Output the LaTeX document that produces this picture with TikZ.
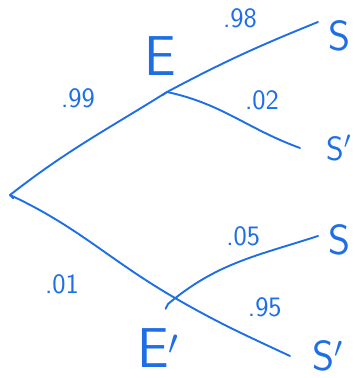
\documentclass[tikz,border=0pt]{standalone}
\usepackage{tikz}
\usetikzlibrary{arrows.meta}
\usepackage{xcolor}
\definecolor{pen}{RGB}{30,110,230}

\begin{document}
\begin{tikzpicture}[
    x=1cm,
    y=1cm,
    line cap=round,
    line join=round,
    font=\sffamily,
    stroke/.style={draw=pen, line width=1.35pt},
    prob/.style={text=pen, font=\sffamily\fontsize{20}{22}\selectfont, inner sep=0pt},
    event/.style={text=pen, font=\sffamily\fontsize{40}{44}\selectfont, inner sep=0pt},
    leaf/.style={text=pen, font=\sffamily\fontsize{30}{34}\selectfont, inner sep=0pt, anchor=west},
  ]

  \useasboundingbox (0,0) rectangle (8.85,9.45);

  % Branch points
  \coordinate (root) at (0.25,4.575);
  \coordinate (upJ) at (4.175,7.15);
  \coordinate (loJ) at (4.375,2.0);
  \coordinate (loJs) at (4.2,1.85);

  % Free ends of the four outcomes
  \coordinate (end1) at (7.95,8.9);
  \coordinate (end2) at (7.5,5.75);
  \coordinate (end3) at (7.95,3.55);
  \coordinate (end4) at (7.25,0.55);

  % Event labels
  \node[event] (labE) at (4.0,8.05) {E};
  \node[event] (labEp) at (3.95,0.75) {E$'$};

  % Outcome labels
  \node[leaf] (s1) at (8.2,8.55) {S};
  \node[leaf, font=\sffamily\fontsize{24}{28}\selectfont] (s2) at (8.15,5.75) {S$'$};
  \node[leaf] (s3) at (8.2,3.45) {S};
  \node[leaf] (s4) at (7.8,0.55) {S$'$};

  % Branch probabilities
  \node[prob] (p1) at (1.95,7.0) {.99};
  \node[prob] (p2) at (1.55,2.35) {.01};
  \node[prob] (p3) at (6.0,9.0) {.98};
  \node[prob] (p4) at (6.55,6.95) {.02};
  \node[prob] (p5) at (6.08,3.55) {.05};
  \node[prob] (p6) at (6.62,1.78) {.95};

  % First stage
  \draw[stroke] (root) to[out=38,in=212] (upJ);
  \draw[stroke] (root) to[out=-25,in=150] (loJ) to[out=-30,in=155] (end4);

  % Second stage
  \draw[stroke] (upJ) to[out=28,in=202] (end1);
  \draw[stroke] (upJ) to[out=-12,in=160] (end2);
  \draw[stroke] (loJs) to[out=40,in=198] (end3);

  % Small hooks of the pen
  \draw[stroke] (root) -- ++(0.08,-0.08);
  \draw[stroke] (loJs) -- ++(-0.06,-0.12);
  \draw[stroke] (upJ) -- ++(-0.12,-0.08);
\end{tikzpicture}
\end{document}
